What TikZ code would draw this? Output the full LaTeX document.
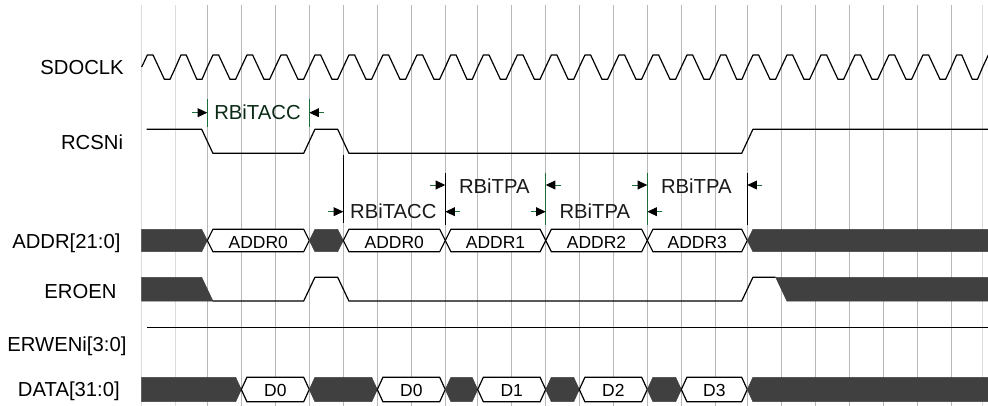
\documentclass[tikz,border=0pt]{standalone}
\usepackage{fontspec}
\setmainfont{Liberation Sans}
\usetikzlibrary{arrows.meta}
\definecolor{busdark}{HTML}{404040}
\definecolor{gridc}{HTML}{B8B8B8}
\definecolor{gridl}{HTML}{DCDCDC}
\definecolor{dimg}{HTML}{1C6E3A}
\definecolor{acctxt}{HTML}{0B2B16}
\definecolor{anntxt}{HTML}{1A1A1A}
\newcommand{\mkhex}[5]{\path[#5] (#1,{(#3+#4)/2}) -- ({#1+5.6},#3) -- ({#2-5.6},#3) -- (#2,{(#3+#4)/2}) -- ({#2-5.6},#4) -- ({#1+5.6},#4) -- cycle;}
\begin{document}
\begin{tikzpicture}[x=0.75pt,y=-0.75pt,
  sig/.style={line width=0.9pt, draw=black, line join=round},
  dark/.style={fill=busdark, draw=busdark, line width=0.4pt},
  hexa/.style={fill=white, draw=black, line width=0.9pt, line join=miter},
  lbl/.style={font=\fontsize{15.2}{18}\selectfont, anchor=base east, inner sep=0pt},
  val/.style={font=\fontsize{13.1}{16}\selectfont, anchor=base, inner sep=0pt},
  ann/.style={font=\fontsize{15.2}{18}\selectfont, anchor=base, inner sep=0pt, text=anntxt},
  dimk/.style={line width=0.8pt, draw=black},
  dimgr/.style={line width=0.8pt, draw=dimg},
  arr/.style={line width=0.7pt, draw=dimg, -{Triangle[length=7.2pt,width=6.6pt,color=black]}},
]
\useasboundingbox (0,0) rectangle (988,406);
\fill[white] (0,0) rectangle (988,406);
\clip (0,0) rectangle (988,406);

% grid
\foreach \x in {141.7,175.7,982.7} \draw[gridl, line width=0.75pt] (\x,5) -- (\x,406);
\foreach \x in {207.3,241.3,275.3,309.3,343.3,377.3,411.3,445.3,477.7,511.7,545.7,579.3,613.3,647.3,681.3,715.3,747.3,781.3,815.3,849.3,883.3,917.3,951.3}
  \draw[gridc, line width=0.75pt] (\x,5) -- (\x,406);

% labels
\node[lbl] (lclk) at (124,75) {SDOCLK};
\node[lbl] (lrcs) at (123.3,150) {RCSNi};
\node[lbl] (ladr) at (120.7,248.3) {ADDR[21:0]};
\node[lbl] (loen) at (116.7,298.3) {EROEN};
\node[lbl] (lwen) at (126.7,351.7) {ERWENi[3:0]};
\node[lbl] (ldat) at (120,396.7) {DATA[31:0]};

% clock
\draw[sig] (141.7,67) \foreach \a/\b in {141.7/175.7,175.7/207.3,207.3/241.3,241.3/275.3,275.3/309.3,309.3/343.3,343.3/377.3,377.3/411.3,411.3/445.3,445.3/477.7,477.7/511.7,511.7/545.7,545.7/579.3,579.3/613.3,613.3/647.3,647.3/681.3,681.3/715.3,715.3/747.3,747.3/781.3,781.3/815.3,815.3/849.3,849.3/883.3,883.3/917.3,917.3/951.3,951.3/982.7,982.7/1016.3}
  { -- ({\a+(\b-\a)/6},55) -- ({\a+(\b-\a)/3},55) -- ({\a+2*(\b-\a)/3},79.3) -- ({\a+5*(\b-\a)/6},79.3) -- (\b,67) };

% RCSNi
\draw[sig] (146.7,129.3) -- (201.7,129.3) -- (212.9,153.3) -- (303.7,153.3) -- (314.9,129.3) -- (337.7,129.3) -- (348.9,153.3) -- (741.7,153.3) -- (752.9,129.3) -- (990,129.3);

% ADDR bus
\path[dark] (141.7,229.3) -- (201.7,229.3) -- (207.3,240.5) -- (201.7,251.7) -- (141.7,251.7) -- cycle;
\mkhex{207.3}{309.3}{229.3}{251.7}{hexa}
\mkhex{309.3}{343.3}{229.3}{251.7}{dark}
\mkhex{343.3}{445.3}{229.3}{251.7}{hexa}
\mkhex{445.3}{545.7}{229.3}{251.7}{hexa}
\mkhex{545.7}{647.3}{229.3}{251.7}{hexa}
\mkhex{647.3}{747.3}{229.3}{251.7}{hexa}
\path[dark] (747.3,240.5) -- (752.9,229.3) -- (992,229.3) -- (992,251.7) -- (752.9,251.7) -- cycle;
\node[val] (va0) at (258.3,248.3) {ADDR0};
\node[val] (va0b) at (394.3,248.3) {ADDR0};
\node[val] (va1) at (495.5,248.3) {ADDR1};
\node[val] (va2) at (596.5,248.3) {ADDR2};
\node[val] (va3) at (697.3,248.3) {ADDR3};

% EROEN
\path[dark] (141.7,277.3) -- (201.7,277.3) -- (212.9,301) -- (141.7,301) -- cycle;
\draw[sig] (212.9,301) -- (303.7,301) -- (314.9,277.3) -- (337.7,277.3) -- (348.9,301) -- (741.7,301) -- (752.9,277.3) -- (775.7,277.3);
\path[dark] (775.7,277.3) -- (992,277.3) -- (992,301) -- (786.9,301) -- cycle;

% ERWENi
\draw[sig] (147.3,327.7) -- (990,327.7);

% DATA bus
\path[dark] (141.7,377.3) -- (235.7,377.3) -- (241.3,389.5) -- (235.7,401.7) -- (141.7,401.7) -- cycle;
\mkhex{241.3}{309.3}{377.3}{401.7}{hexa}
\mkhex{309.3}{377.3}{377.3}{401.7}{dark}
\mkhex{377.3}{445.3}{377.3}{401.7}{hexa}
\mkhex{445.3}{477.7}{377.3}{401.7}{dark}
\mkhex{477.7}{545.7}{377.3}{401.7}{hexa}
\mkhex{545.7}{579.3}{377.3}{401.7}{dark}
\mkhex{579.3}{647.3}{377.3}{401.7}{hexa}
\mkhex{647.3}{681.3}{377.3}{401.7}{dark}
\mkhex{681.3}{747.3}{377.3}{401.7}{hexa}
\path[dark] (747.3,389.5) -- (752.9,377.3) -- (992,377.3) -- (992,401.7) -- (752.9,401.7) -- cycle;
\node[val] (vd0) at (275.3,396) {D0};
\node[val] (vd0b) at (411.3,396) {D0};
\node[val] (vd1) at (511.7,396) {D1};
\node[val] (vd2) at (613.3,396) {D2};
\node[val] (vd3) at (714.3,396) {D3};

% top RBiTACC
\draw[dimgr] (207.3,99.3) -- (207.3,127.3);
\draw[dimgr] (309.3,99.3) -- (309.3,127.3);
\draw[arr] (192.3,112.7) -- (207.3,112.7);
\draw[arr] (324.3,112.7) -- (309.3,112.7);
\node[ann, text=acctxt] (tacc1) at (257.5,120) {RBiTACC};

% lower timing marks
\draw[dimk] (343.3,155) -- (343.3,223.3);
\draw[dimk] (445.3,172.7) -- (445.3,225);
\draw[dimgr] (545.7,172.7) -- (545.7,225);
\draw[dimgr] (647.3,172.7) -- (647.3,225);
\draw[dimk] (747.3,172.7) -- (747.3,225);

\draw[arr] (328.3,211.7) -- (343.3,211.7);
\draw[arr] (460.3,211.7) -- (445.3,211.7);
\node[ann] (tacc2) at (393.3,218.3) {RBiTACC};

\draw[arr] (430.3,185) -- (445.3,185);
\draw[arr] (560.7,185) -- (545.7,185);
\node[ann] (tpa1) at (494.3,193.3) {RBiTPA};

\draw[arr] (530.7,211.7) -- (545.7,211.7);
\draw[arr] (662.3,211.7) -- (647.3,211.7);
\node[ann] (tpa2) at (594.8,218.3) {RBiTPA};

\draw[arr] (632.3,185) -- (647.3,185);
\draw[arr] (762.3,185) -- (747.3,185);
\node[ann] (tpa3) at (696.3,193.3) {RBiTPA};
\end{tikzpicture}
\end{document}
